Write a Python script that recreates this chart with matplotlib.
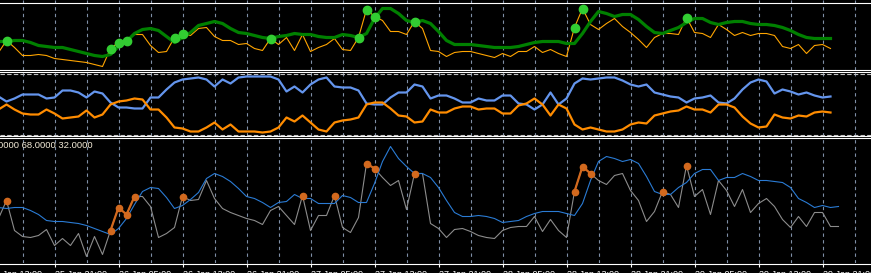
import numpy as np
import matplotlib.pyplot as plt
from matplotlib.lines import Line2D

W, H = 871, 273
plt.rcParams['font.family'] = ['Liberation Sans', 'DejaVu Sans']

# hourly bars, 0 = 25 Jan 21:00
bars = np.arange(-7, 98)
bars_low = np.arange(-7, 99)

# top panel: price line + smoothed line + signal dots
top_price = [
    18, 30, 23, 15, 15, 16, 15,
    12, 11, 10, 9, 8, 6, 4, 22,
    28, 30, 36, 36, 25, 18, 19, 33,
    37, 35, 42, 43, 34, 30, 30, 26,
    27, 22, 20, 32, 26, 33, 20, 36,
    19, 23, 26, 32, 21, 20, 33, 61,
    54, 50, 39, 39, 36, 49, 42, 20,
    19, 14, 18, 19, 19, 17, 15, 13,
    17, 14, 19, 19, 24, 18, 21, 17,
    14, 43, 62, 46, 41, 47, 52, 44,
    38, 31, 23, 33, 37, 37, 36, 53,
    38, 37, 33, 46, 41, 35, 38, 35,
    37, 37, 35, 24, 22, 26, 17, 25,
    26, 22,
]
top_ma = [
    29, 29, 30, 30, 28, 25, 24,
    23, 23, 21, 19, 17, 15, 14, 16,
    24, 29, 37, 41, 42, 40, 34, 28,
    33, 38, 45, 47, 49, 47, 42, 38,
    37, 35, 33, 32, 34, 35, 37, 36,
    36, 34, 33, 33, 36, 35, 33, 37,
    52, 62, 62, 57, 50, 48, 50, 47,
    39, 30, 26, 26, 26, 25, 24, 23,
    23, 23, 24, 26, 28, 29, 29, 29,
    27, 27, 37, 49, 59, 57, 54, 56,
    56, 51, 44, 38, 37, 40, 43, 48,
    52, 52, 48, 46, 48, 49, 49, 47,
    46, 46, 45, 43, 40, 36, 33, 32,
    32, 32,
]
top_signal_bars = [-6, 7, 8, 9, 15, 16, 27, 38, 39, 40, 45, 65, 66, 79]

# middle panel: two mirrored oscillator lines
mid_up = [
    40, 35, 38, 42, 42, 42, 38,
    39, 46, 46, 44, 39, 45, 43, 34,
    29, 29, 28, 28, 39, 39, 47, 54,
    57, 58, 59, 57, 50, 57, 53, 59,
    60, 60, 60, 60, 57, 45, 50, 44,
    52, 57, 59, 50, 49, 49, 46, 33,
    32, 32, 39, 44, 44, 52, 50, 38,
    41, 41, 38, 34, 34, 38, 36, 36,
    41, 41, 33, 32, 27, 32, 44, 32,
    38, 53, 58, 57, 58, 59, 59, 56,
    52, 50, 52, 44, 42, 40, 39, 34,
    38, 39, 41, 34, 33, 38, 47, 54,
    57, 55, 43, 47, 45, 42, 44, 41,
    39, 40,
]
mid_down = [
    27, 32, 27, 23, 22, 22, 27,
    23, 18, 19, 20, 26, 19, 22, 32,
    35, 36, 38, 37, 27, 27, 19, 9,
    8, 5, 5, 9, 14, 7, 12, 5,
    5, 5, 4, 5, 9, 19, 15, 21,
    14, 7, 5, 14, 16, 17, 19, 32,
    34, 34, 28, 21, 20, 14, 15, 27,
    24, 24, 28, 30, 30, 27, 28, 28,
    23, 23, 31, 33, 38, 32, 21, 32,
    28, 12, 7, 9, 7, 5, 5, 7,
    12, 14, 13, 21, 23, 25, 26, 30,
    27, 27, 24, 32, 32, 29, 20, 13,
    9, 10, 22, 19, 18, 21, 20, 24,
    25, 24,
]
mid_levels = [63, 2]

# lower panel: oscillator, its average and signal points
low_main = [
    45, 63, 33, 27, 26, 28, 34,
    18, 25, 18, 30, 7, 27, 9, 33,
    56, 49, 67, 67, 57, 26, 30, 36,
    67, 63, 64, 83, 65, 55, 51, 48,
    45, 43, 39, 53, 57, 48, 39, 68,
    33, 48, 48, 68, 36, 31, 46, 100,
    95, 86, 78, 83, 54, 90, 90, 40,
    35, 26, 34, 35, 32, 28, 26, 25,
    33, 36, 37, 37, 47, 32, 44, 33,
    26, 72, 97, 90, 83, 79, 88, 90,
    73, 63, 42, 52, 72, 69, 56, 98,
    67, 74, 49, 83, 73, 57, 74, 51,
    60, 65, 57, 44, 36, 47, 37, 51,
    51, 37, 37,
]
low_ma = [
    56, 55, 56, 56, 53, 49, 43,
    42, 42, 41, 40, 38, 35, 32, 29,
    35, 45, 59, 72, 76, 75, 66, 55,
    58, 64, 71, 85, 90, 87, 82, 75,
    67, 65, 61, 56, 61, 62, 69, 65,
    65, 60, 60, 60, 68, 66, 61, 61,
    80, 102, 117, 105, 97, 90, 90, 86,
    76, 63, 51, 47, 47, 48, 47, 45,
    41, 42, 43, 47, 50, 52, 52, 52,
    50, 48, 60, 83, 102, 107, 105, 102,
    104, 100, 87, 72, 69, 69, 76, 81,
    90, 94, 94, 83, 86, 86, 90, 87,
    83, 83, 82, 81, 76, 65, 61, 56,
    58, 56, 57,
]
low_signal_bars = [-6, 7, 8, 9, 10, 16, 31, 35, 39, 40, 45, 65, 66, 67, 76, 79]
low_title = "0000 68.0000 32.0000"

tick_bars = [-8, 0, 8, 16, 24, 32, 40, 48, 56, 64, 72, 80, 88, 96]
tick_labels = ["25 Jan 13:00", "25 Jan 21:00", "26 Jan 05:00", "26 Jan 13:00",
               "26 Jan 21:00", "27 Jan 05:00", "27 Jan 13:00", "27 Jan 21:00",
               "28 Jan 05:00", "28 Jan 13:00", "28 Jan 21:00", "29 Jan 05:00",
               "29 Jan 13:00", "29 Jan 21:00"]
grid_bars = np.arange(-4, 101, 4)

GRID = '#7f8fa6'


def make_panel(fig, top_px, bottom_px):
    ax = fig.add_axes([0, 1 - bottom_px / H, 1, (bottom_px - top_px) / H])
    ax.set_facecolor('black')
    ax.set_xlim(-54.5 / 8, (W - 54.5) / 8)
    ax.set_ylim(0.5, bottom_px - top_px + 0.5)
    for s in ax.spines.values():
        s.set_visible(False)
    ax.set_xticks([])
    ax.set_yticks([])
    for g in grid_bars:
        ax.axvline(g, color=GRID, lw=0.8, ls=(0, (3, 3)), zorder=0)
    return ax


def signal_series(x, y, flagged):
    out = np.full(len(x), np.nan)
    y = np.asarray(y, dtype=float)
    for b in flagged:
        k = int(np.where(x == b)[0][0])
        out[k] = y[k]
    return out


fig = plt.figure(figsize=(W / 100, H / 100), dpi=100, facecolor='black')

# top
ax1 = make_panel(fig, 0, 70)
ax1.plot(bars, top_price, color='#ffa500', lw=0.8, zorder=2)
ax1.plot(bars, top_ma, color='#008000', lw=2.3, zorder=3)
ax1.plot(bars, signal_series(bars, top_price, top_signal_bars), ls='none',
         marker='o', ms=6, color='#32cd32', zorder=4)

# middle
ax2 = make_panel(fig, 70, 136)
for lv in mid_levels:
    ax2.axhline(lv, color='#c0c0c0', lw=0.8, ls=(0, (4, 2)), zorder=1)
ax2.plot(bars, mid_up, color='#6495ed', lw=1.6, zorder=3)
ax2.plot(bars, mid_down, color='#ff8c00', lw=1.6, zorder=3)

# lower
ax3 = make_panel(fig, 136, 263)
ax3.plot(bars_low, low_main, color='#8c8c8c', lw=0.8, zorder=2)
ax3.plot(bars_low, low_ma, color='#2a7bd4', lw=0.8, zorder=3)
ax3.plot(bars_low, signal_series(bars_low, low_main, low_signal_bars),
         color='#d2691e', lw=1.6, marker='o', ms=4.5, zorder=4)
ax3.annotate(low_title, xy=(0, 1), xycoords='axes fraction', xytext=(-2, -5),
             textcoords='offset pixels', va='top', ha='left', fontsize=6.8,
             color='#f2ead6')

ax3.set_xticks(tick_bars[1:], tick_labels[1:])
ax3.tick_params(axis='x', direction='out', length=3, width=0.8, color='white',
                labelcolor='white', labelsize=6.5, pad=2.0)
for lab in ax3.get_xticklabels():
    lab.set_horizontalalignment('left')
# first label sits left of the visible range and is cut by the edge
ax3.annotate(tick_labels[0], xy=(tick_bars[0], 0), xycoords=('data', 'axes fraction'),
             xytext=(0, -7), textcoords='offset pixels', va='top', ha='left',
             fontsize=6.5, color='white', annotation_clip=False)

# white separators between the panels
for row in [2, 69, 71, 135, 137, 263]:
    yf = 1 - (row + 0.5) / H
    fig.add_artist(Line2D([0, 1], [yf, yf], transform=fig.transFigure,
                          color='white', lw=0.8, zorder=10))

fig.savefig('out.png', dpi=100, facecolor='black')
